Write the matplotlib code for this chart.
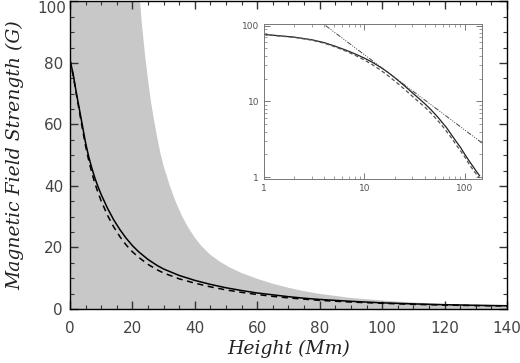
import matplotlib.pyplot as plt
from matplotlib.ticker import MultipleLocator, LogLocator, NullFormatter
from matplotlib.transforms import blended_transform_factory

# field strength (Height in Mm, B in G)
height = [0, 1, 2, 3, 4, 5, 6, 7, 8, 9, 10, 12, 14, 16, 18, 20, 22, 25, 28, 30,
          35, 40, 45, 50, 55, 60, 65, 70, 75, 80, 90, 100, 110, 120, 130, 140]
b_solid = [81, 76.5, 70.5, 65, 59.5, 54, 49.5, 45.8, 42.5, 39.7, 37.2, 32.8, 29, 25.8, 23, 20.6,
           18.6, 16.1, 14.1, 13.0, 10.9, 9.3, 8.0, 6.9, 6.0, 5.2, 4.6, 4.0, 3.5, 3.1,
           2.5, 2.0, 1.65, 1.4, 1.2, 1.05]
b_dashed = [81, 76, 70, 64.3, 58.5, 53, 48.3, 44.3, 40.8, 37.8, 35.1, 30.5, 26.7, 23.5, 20.8, 18.6,
            16.8, 14.5, 12.7, 11.7, 9.8, 8.4, 7.2, 6.2, 5.4, 4.7, 4.1, 3.6, 3.2, 2.8,
            2.25, 1.85, 1.5, 1.27, 1.1, 0.98]

# upper edge of the shaded band
band_h = [0, 20, 21, 22, 23, 24, 25, 26, 27, 28, 29, 30, 32, 34, 36, 38, 40, 42, 45, 48,
          51, 55, 60, 65, 70, 75, 80, 90, 100, 110, 120, 130, 140]
band_b = [600, 140, 122, 106, 93, 83, 74.5, 67, 61, 55.5, 50.5, 46.5, 40, 34.5, 30, 26.3, 23.2,
          20.6, 17.6, 15.4, 13.6, 11.7, 9.8, 8.2, 6.9, 5.8, 4.9, 3.6, 2.75, 2.1, 1.6, 1.25, 1.0]

# power-law reference line in the inset
pl_h = [4.1, 150]
pl_b = [100, 2.8]

y_ticks = [0, 20, 40, 60, 80, 100]
y_labels = ['0', '20', '40', '60', '80', '100']

fig = plt.figure(figsize=(5.2, 3.63), dpi=100)
ax = fig.add_axes([0.1346, 0.1488, 0.8404, 0.8471])

ax.fill_between(band_h, 0, band_b, color='#c8c8c8', lw=0)
ax.plot(height, b_solid, color='black', lw=1.1)
ax.plot(height, b_dashed, color='black', lw=1.1, dashes=(4, 3))

ax.set_xlim(0, 140)
ax.set_ylim(0, 100)
ax.xaxis.set_major_locator(MultipleLocator(20))
ax.xaxis.set_minor_locator(MultipleLocator(5))
ax.set_yticks(y_ticks)
# top label is drawn separately so it sits inside the picture
ax.set_yticklabels(y_labels[:-1] + [''])
ax.yaxis.set_minor_locator(MultipleLocator(5))
ax.tick_params(which='both', direction='in', top=True, right=True,
               labelsize=11, labelcolor='#444444', color='#333333')
ax.tick_params(which='major', length=6, width=1)
ax.tick_params(which='minor', length=3, width=0.8)
ax.tick_params(axis='x', pad=9)
ax.tick_params(axis='y', pad=5)
for s in ax.spines.values():
    s.set_linewidth(1)

trans = blended_transform_factory(fig.transFigure, ax.transData)
ax.text(66 / 520, y_ticks[-1], y_labels[-1], transform=trans, ha='right', va='top',
        fontsize=11, color='#444444')

lab = dict(family='DejaVu Serif', style='italic', fontsize=13.5, color='#222222')
ax.set_xlabel('Height (Mm)', **lab)
ax.set_ylabel('Magnetic Field Strength (G)', **lab)
ax.xaxis.set_label_coords(0.5, -0.1)
ax.yaxis.set_label_coords(-0.105, 0.5)

# inset in log-log
ins = fig.add_axes([0.5077, 0.5069, 0.4192, 0.4270], facecolor='white')
ins.plot(height[1:], b_solid[1:], color='#222222', lw=0.9)
ins.plot(height[1:], b_dashed[1:], color='#555555', lw=0.9, dashes=(3, 2))
ins.plot(pl_h, pl_b, color='#444444', lw=0.7, dashes=(5, 1.5, 1, 1.5, 1, 1.5, 1, 1.5))
ins.set_xscale('log')
ins.set_yscale('log')
ins.set_xlim(1, 148)
ins.set_ylim(0.95, 105)
ins.xaxis.set_minor_locator(LogLocator(base=10, subs=range(2, 10)))
ins.yaxis.set_minor_locator(LogLocator(base=10, subs=range(2, 10)))
ins.xaxis.set_minor_formatter(NullFormatter())
ins.yaxis.set_minor_formatter(NullFormatter())
ins.set_xticks([1, 10, 100])
ins.set_xticklabels(['1', '10', '100'])
ins.set_yticks([1, 10, 100])
ins.set_yticklabels(['1', '10', '100'])
ins.tick_params(which='both', direction='in', top=True, right=True,
                labelsize=6.5, labelcolor='#555555', color='#777777')
ins.tick_params(which='major', length=4, width=0.7)
ins.tick_params(which='minor', length=2, width=0.5)
for s in ins.spines.values():
    s.set_linewidth(0.7)
    s.set_color('#777777')

fig.savefig('out.png', dpi=100)
